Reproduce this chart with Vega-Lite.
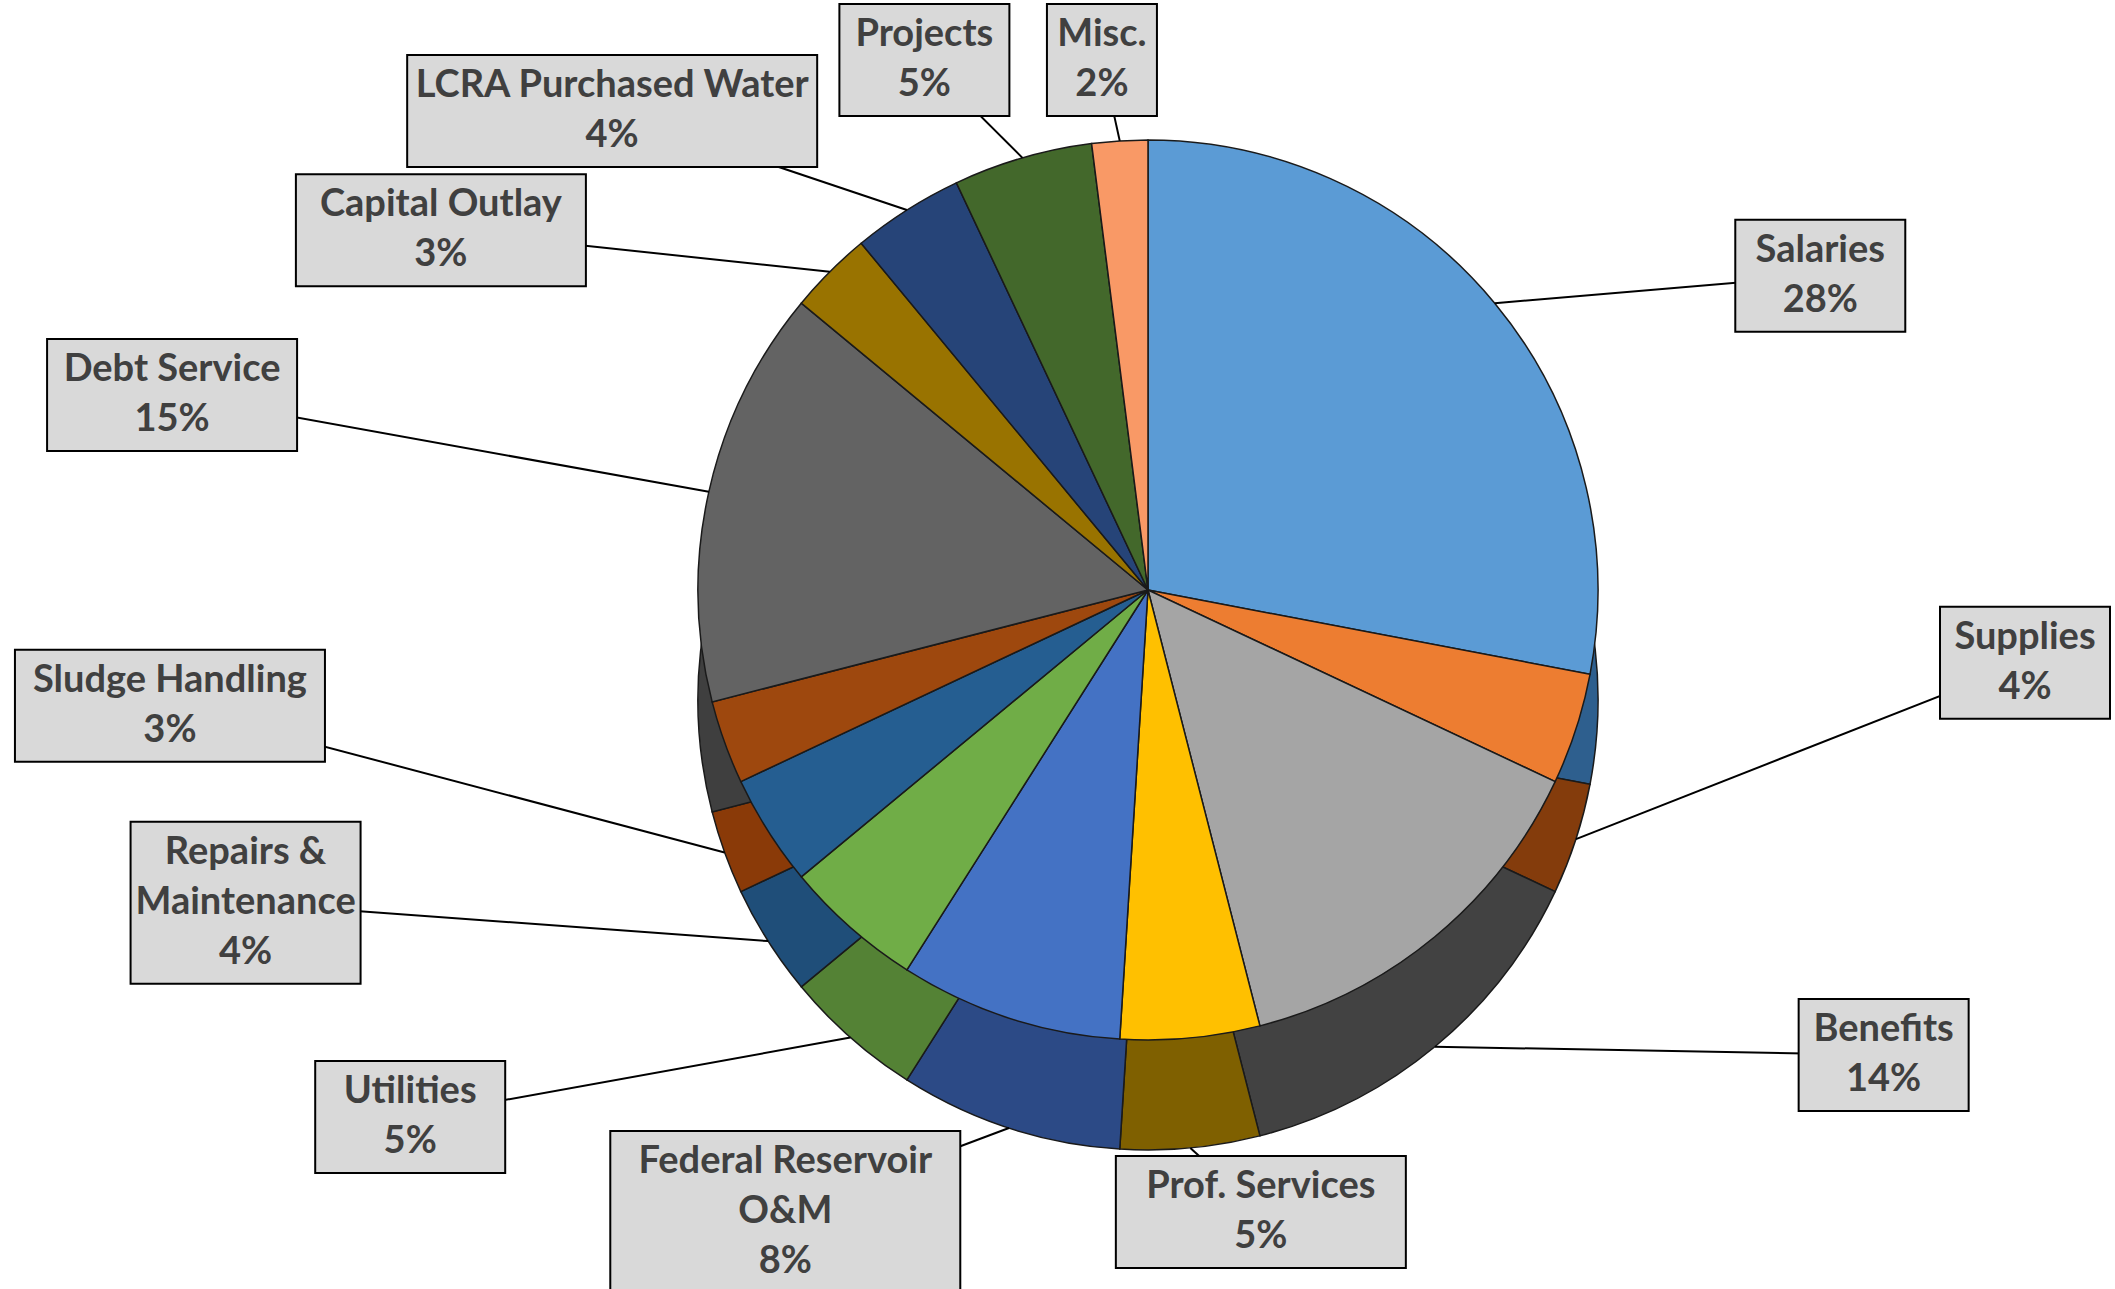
{
  "$schema": "https://vega.github.io/schema/vega-lite/v6.json",
  "width": 2115,
  "height": 1289,
  "autosize": {"type": "none"},
  "padding": 0,
  "background": "white",
  "config": {"view": {"stroke": null}},
  "data": {"values": [
    {"idx": 1, "category": "Salaries", "value": 28},
    {"idx": 2, "category": "Supplies", "value": 4},
    {"idx": 3, "category": "Benefits", "value": 14},
    {"idx": 4, "category": "Prof. Services", "value": 5},
    {"idx": 5, "category": "Federal Reservoir\nO&M", "value": 8},
    {"idx": 6, "category": "Utilities", "value": 5},
    {"idx": 7, "category": "Repairs &\nMaintenance", "value": 4},
    {"idx": 8, "category": "Sludge Handling", "value": 3},
    {"idx": 9, "category": "Debt Service", "value": 15},
    {"idx": 10, "category": "Capital Outlay", "value": 3},
    {"idx": 11, "category": "LCRA Purchased Water", "value": 4},
    {"idx": 12, "category": "Projects", "value": 5},
    {"idx": 13, "category": "Misc.", "value": 2}
  ]},
  "transform": [
    {"window": [{"op": "sum", "field": "value", "as": "end"}], "sort": [{"field": "idx"}], "frame": [null, 0]},
    {"calculate": "datum.end - datum.value", "as": "start"},
    {"calculate": "PI * (datum.start + datum.end) / 100", "as": "ang"},
    {"calculate": "sin(datum.ang)", "as": "s"},
    {"calculate": "cos(datum.ang)", "as": "c"},
    {"calculate": "datum.s >= 0 ? min(877, (1000 - 200 * datum.c) * datum.s) : (datum.c >= 0 ? (1000 - 1800 * max(0, datum.c - 0.85)) : (1020 + 170 * datum.c * datum.c)) * datum.s", "as": "lx"},
    {"calculate": "datum.c >= 0 ? max(-530, -190 - 480 * pow(datum.c, 3)) : (datum.s >= 0 ? min(622, -190 - 850 * datum.c) : min(622, -223 - 1000 * datum.c))", "as": "ly"},
    {"calculate": "450 * datum.s", "as": "ex"},
    {"calculate": "-450 * datum.c + (datum.c < 0 ? 110 : 0)", "as": "ey"},
    {"calculate": "datum.category + '\\n' + datum.value + '%'", "as": "txt"},
    {"calculate": "length(split(datum.category, '\\n')[0])", "as": "l1"},
    {"calculate": "indexof(datum.category, '\\n') >= 0 ? length(split(datum.category, '\\n')[1]) : 0", "as": "l2"},
    {"calculate": "indexof(datum.category, '\\n') >= 0 ? 3 : 2", "as": "nl"},
    {"calculate": "(20 * max(datum.l1, datum.l2) + 10) / 2", "as": "hw"},
    {"calculate": "(datum.nl * 50 + 12) / 2", "as": "hh"},
    {"calculate": "datum.lx - datum.hw", "as": "bx1"},
    {"calculate": "datum.lx + datum.hw", "as": "bx2"},
    {"calculate": "datum.ly - datum.hh", "as": "by1"},
    {"calculate": "datum.ly + datum.hh", "as": "by2"},
    {"calculate": "datum.ly - (datum.nl - 1) * 25", "as": "ty"}
  ],
  "layer": [
    {
      "mark": {"type": "arc", "radius": 450, "yOffset": 110, "stroke": "#1a1a1a", "strokeWidth": 1.5},
      "encoding": {
        "x": {"datum": 0, "type": "quantitative", "scale": {"domain": [-1148, 967], "nice": false, "zero": false}, "axis": null},
        "y": {"datum": 0, "type": "quantitative", "scale": {"domain": [-590, 699], "nice": false, "zero": false, "reverse": true}, "axis": null},
        "theta": {"field": "start", "type": "quantitative", "scale": {"domain": [0, 100]}},
        "theta2": {"field": "end"},
        "color": {"field": "category", "type": "nominal", "legend": null,
          "scale": {"domain": ["Salaries", "Supplies", "Benefits", "Prof. Services", "Federal Reservoir\nO&M", "Utilities", "Repairs &\nMaintenance", "Sludge Handling", "Debt Service", "Capital Outlay", "LCRA Purchased Water", "Projects", "Misc."],
                    "range": ["#2E5F8E", "#843C0C", "#424242", "#7F6000", "#2C4A86", "#548235", "#1F4E79", "#8A3A08", "#3F3F3F", "#6B5000", "#1B3156", "#2F4A1E", "#B5683F"]}}
      }
    },
    {
      "mark": {"type": "arc", "radius": 450, "stroke": "#1a1a1a", "strokeWidth": 1.5},
      "encoding": {
        "x": {"datum": 0, "type": "quantitative", "scale": {"domain": [-1148, 967], "nice": false, "zero": false}, "axis": null},
        "y": {"datum": 0, "type": "quantitative", "scale": {"domain": [-590, 699], "nice": false, "zero": false, "reverse": true}, "axis": null},
        "theta": {"field": "start", "type": "quantitative", "scale": {"domain": [0, 100]}},
        "theta2": {"field": "end"},
        "color": {"field": "category", "type": "nominal", "legend": null,
          "scale": {"domain": ["Salaries", "Supplies", "Benefits", "Prof. Services", "Federal Reservoir\nO&M", "Utilities", "Repairs &\nMaintenance", "Sludge Handling", "Debt Service", "Capital Outlay", "LCRA Purchased Water", "Projects", "Misc."],
                    "range": ["#5B9BD5", "#ED7D31", "#A5A5A5", "#FFC000", "#4472C4", "#70AD47", "#255E91", "#9E480E", "#636363", "#997300", "#264478", "#43682B", "#F99966"]}}
      }
    },
    {
      "mark": {"type": "rule", "color": "#000000", "strokeWidth": 2},
      "encoding": {
        "x": {"field": "ex", "type": "quantitative"},
        "y": {"field": "ey", "type": "quantitative"},
        "x2": {"field": "lx"},
        "y2": {"field": "ly"}
      }
    },
    {
      "mark": {"type": "rect", "fill": "#D9D9D9", "stroke": "#000000", "strokeWidth": 2},
      "encoding": {
        "x": {"field": "bx1", "type": "quantitative"},
        "x2": {"field": "bx2"},
        "y": {"field": "by1", "type": "quantitative"},
        "y2": {"field": "by2"}
      }
    },
    {
      "mark": {"type": "text", "font": "Lato", "fontWeight": "bold", "fontSize": 38, "lineHeight": 50, "lineBreak": "\n", "align": "center", "baseline": "middle", "color": "#404040"},
      "encoding": {
        "x": {"field": "lx", "type": "quantitative"},
        "y": {"field": "ty", "type": "quantitative"},
        "text": {"field": "txt"}
      }
    }
  ],
  "resolve": {"scale": {"color": "independent"}}
}
